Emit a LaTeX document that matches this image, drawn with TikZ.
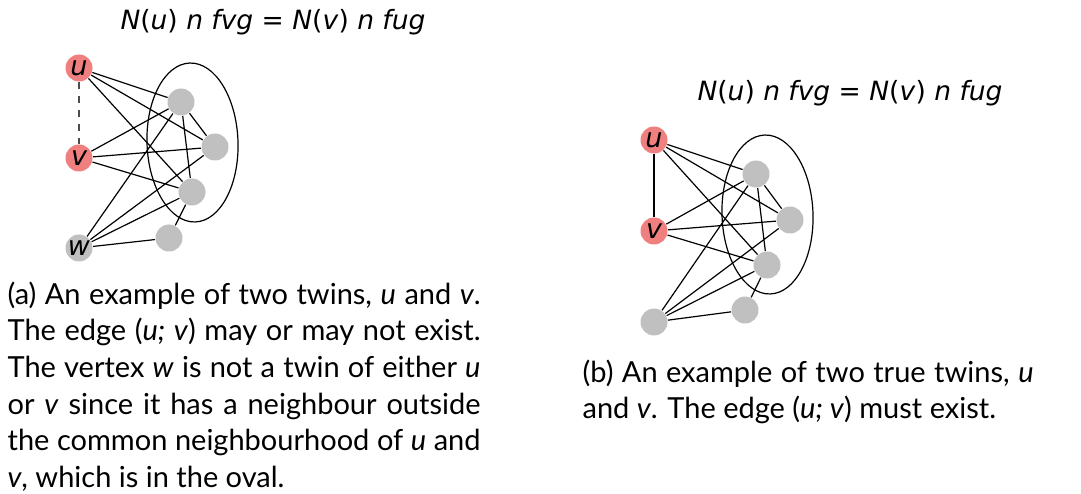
\documentclass[tikz,border=0pt]{standalone}
\usepackage{fontspec}
\setmainfont{Lato}
\newfontfamily\eqfont{DejaVu Sans}
\usetikzlibrary{positioning}
\definecolor{twin}{HTML}{F08080}
\definecolor{other}{HTML}{C0C0C0}

\begin{document}
\begin{tikzpicture}[x=1pt, y=-1pt, line width=1.2pt,
    vtx/.style={circle, fill=other, inner sep=0pt, minimum size=27pt,
      font=\eqfont\fontsize{27}{27}\selectfont\itshape},
    twinvtx/.style={vtx, fill=twin},
    eq/.style={font=\eqfont\fontsize{26.5}{30}\selectfont},
    capt/.style={anchor=north west, inner sep=0pt, align=justify,
      font=\fontsize{29}{36.7}\selectfont}]
  \useasboundingbox (0,0) rectangle (1081,494);

  % (a) zwei Zwillinge, Kante optional
  \node[eq] (eqa) at (273,22) {\textit{N}(\textit{u}) \textit{n fvg} = \textit{N}(\textit{v}) \textit{n fug}};
  \draw (192.5,142.5) ellipse [x radius=45.5, y radius=79.5, rotate=2];
  \node[twinvtx] (lu) at (79,68) {u};
  \node[twinvtx] (lv) at (79,158) {v};
  \node[vtx] (lw) at (79,248) {w};
  \node[vtx] (la) at (181,102) {};
  \node[vtx] (lb) at (215,147) {};
  \node[vtx] (lc) at (192,192) {};
  \node[vtx] (ld) at (169,238) {};
  \draw[black!70, dash pattern=on 7pt off 7pt] (lu) -- (lv);
  \draw (lu) -- (la) (lu) -- (lb) (lu) -- (lc)
        (lv) -- (la) (lv) -- (lb) (lv) -- (lc)
        (lw) -- (la) (lw) -- (lb) (lw) -- (lc) (lw) -- (ld)
        (la) -- (lb) (la) -- (lc) (lc) -- (ld);
  \node[capt, text width=473pt] (capa) at (7,281)
    {(a) An example of two twins, \textit{u} and \textit{v}.\linebreak
     The edge (\textit{u; v}) may or may not exist.\linebreak
     The vertex \textit{w} is not a twin of either \textit{u}\linebreak
     or \textit{v} since it has a neighbour outside\linebreak
     the common neighbourhood of \textit{u} and\linebreak
     \textit{v}, which is in the oval.};

  % (b) echte Zwillinge
  \node[eq] (eqb) at (850,93) {\textit{N}(\textit{u}) \textit{n fvg} = \textit{N}(\textit{v}) \textit{n fug}};
  \draw (767.5,214.5) ellipse [x radius=45.5, y radius=79.5, rotate=2];
  \node[twinvtx] (ru) at (654,140) {u};
  \node[twinvtx] (rv) at (654,231) {v};
  \node[vtx] (rw) at (654,322) {};
  \node[vtx] (ra) at (756,174) {};
  \node[vtx] (rb) at (790,220) {};
  \node[vtx] (rc) at (767,265) {};
  \node[vtx] (rd) at (745,310) {};
  \draw (ru) -- (rv);
  \draw (ru) -- (ra) (ru) -- (rb) (ru) -- (rc)
        (rv) -- (ra) (rv) -- (rb) (rv) -- (rc)
        (rw) -- (ra) (rw) -- (rb) (rw) -- (rc) (rw) -- (rd)
        (ra) -- (rb) (ra) -- (rc) (rc) -- (rd);
  \node[capt, text width=451pt] (captb) at (582,359)
    {(b) An example of two true twins, \textit{u}\linebreak
     and \textit{v}. The edge (\textit{u; v}) must exist.};
\end{tikzpicture}
\end{document}
